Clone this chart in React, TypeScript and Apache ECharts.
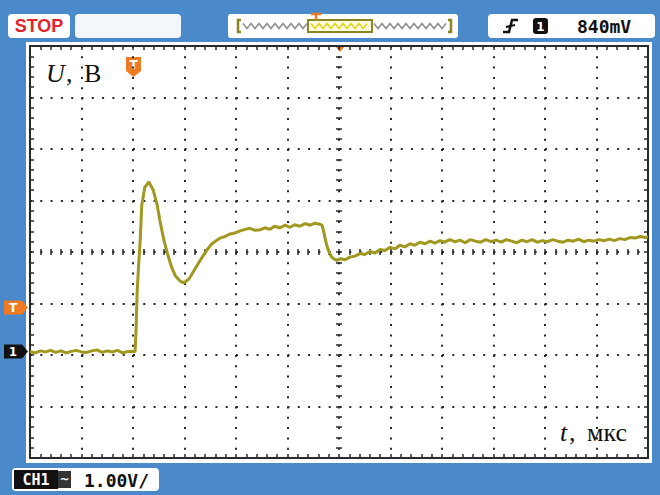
import React, { useEffect, useRef } from "react";
import * as echarts from "echarts";

// Time in screen divisions after the trigger point (trigger at t = 0)
const timeDiv: number[] = [
  -2.0, -1.9, -1.8, -1.7, -1.6, -1.5, -1.4, -1.3, -1.2, -1.1, -1.0, -0.9, -0.8, -0.7, -0.6, -0.5, -0.4, -0.3, -0.2, -0.1, 0.0,
  0.04, 0.06, 0.08, 0.11, 0.14, 0.17, 0.23, 0.31, 0.39, 0.47, 0.52, 0.6, 0.66, 0.74, 0.82, 0.91, 0.99, 1.09, 1.18, 1.3, 1.42,
  1.53, 1.6, 1.69, 1.78, 1.88, 1.98, 2.08, 2.18, 2.27, 2.37, 2.47, 2.56, 2.66, 2.75, 2.85, 2.95, 3.05, 3.14, 3.24, 3.34, 3.44,
  3.53, 3.63, 3.67, 3.7, 3.73, 3.76, 3.79, 3.83, 3.86, 3.91, 3.96, 4.04, 4.12, 4.21, 4.31, 4.41, 4.5, 4.6, 4.7, 4.8, 4.89,
  4.99, 5.09, 5.18, 5.28, 5.38, 5.47, 5.57, 5.67, 5.77, 5.86, 5.96, 6.05, 6.15, 6.25, 6.35, 6.45, 6.55, 6.65, 6.75, 6.85,
  6.95, 7.05, 7.15, 7.25, 7.35, 7.45, 7.55, 7.65, 7.75, 7.85, 7.95, 8.05, 8.15, 8.25, 8.35, 8.45, 8.55, 8.65, 8.75, 8.85,
  8.95, 9.05, 9.15, 9.25, 9.35, 9.45, 9.55, 9.65, 9.75, 9.85, 9.95, 10.0,
];

// Channel 1 voltage, volts (1.00 V/div)
const voltage: number[] = [
  0.01, -0.02, 0.02, 0.0, 0.03, -0.01, 0.02, -0.02, 0.01, 0.03, 0.0, -0.01, 0.02, 0.04, -0.01, 0.02, 0.0, 0.03, -0.02, 0.01, 0.01,
  0.0, 0.43, 1.15, 1.7, 2.17, 2.85, 3.2, 3.3, 3.15, 2.85, 2.56, 2.17, 1.94, 1.67, 1.48, 1.38, 1.34, 1.42, 1.57, 1.77, 1.96,
  2.1, 2.15, 2.21, 2.24, 2.29, 2.31, 2.35, 2.38, 2.4, 2.36, 2.37, 2.41, 2.38, 2.44, 2.41, 2.46, 2.42, 2.47, 2.44, 2.49, 2.46,
  2.5, 2.48, 2.46, 2.35, 2.21, 2.08, 1.98, 1.89, 1.84, 1.8, 1.78, 1.81, 1.79, 1.84, 1.86, 1.91, 1.89, 1.95, 1.92, 1.99, 1.97,
  2.03, 2.0, 2.07, 2.04, 2.1, 2.07, 2.13, 2.1, 2.15, 2.11, 2.16, 2.13, 2.18, 2.14, 2.17, 2.12, 2.18, 2.15, 2.13, 2.18,
  2.14, 2.17, 2.13, 2.18, 2.15, 2.12, 2.17, 2.14, 2.18, 2.13, 2.16, 2.14, 2.18, 2.15, 2.13, 2.17, 2.15, 2.19, 2.14, 2.17,
  2.15, 2.18, 2.16, 2.19, 2.16, 2.2, 2.18, 2.22, 2.21, 2.24, 2.22, 2.24,
];

const voltsPerDiv = 1.0;
const triggerLevelText = "840mV";
const scaleText = "1.00V/";

const ORANGE = "#ee7b22";
const DOT = "#2a2a2a";
const TRACE = "#a0981f";

function wave(x0: number, x1: number, y: number, amp: number, step: number): number[][] {
  const pts: number[][] = [];
  let k = 0;
  for (let x = x0; x <= x1; x += step / 2) {
    pts.push([x, y + (k % 2 === 0 ? -amp : amp)]);
    k++;
  }
  return pts;
}

export default function App() {
  const ref = useRef<HTMLDivElement>(null);
  useEffect(() => {
    if (!ref.current) return;
    const chart = echarts.init(ref.current, null, { renderer: "svg" });
    const left = 30, top = 46, width = 618, height = 412;
    const dotLine = { type: [2, 8.3] as any, width: 2, color: DOT };
    const borderLine = { show: true, onZero: false, lineStyle: { color: "#2a2a2a", width: 2 } };
    const tick = (len: number) => ({ show: true, inside: true, length: len, lineStyle: { color: DOT, width: 1.5 } });
    const minor = (len: number) => ({ show: true, splitNumber: 5, length: len, lineStyle: { color: DOT, width: 1.5 } });
    const gridAxisX = { type: "value" as const, min: -6, max: 6, interval: 1, axisLabel: { show: false } };
    const gridAxisY = { type: "value" as const, min: -4, max: 4, interval: 1, axisLabel: { show: false } };
    const data = timeDiv.map((t, i) => [t, voltage[i] / voltsPerDiv]);

    chart.setOption({
      animation: false,
      backgroundColor: "#4a8acb",
      grid: { left, top, width, height, show: false },
      xAxis: [
        { ...gridAxisX, position: "bottom", axisLine: borderLine, axisTick: tick(4), minorTick: minor(4), splitLine: { show: true, lineStyle: dotLine } },
        { ...gridAxisX, position: "top", axisLine: borderLine, axisTick: tick(4), minorTick: minor(4), splitLine: { show: false } },
        { ...gridAxisX, position: "bottom", offset: -203, axisLine: { show: false, onZero: false }, axisTick: tick(6), minorTick: minor(6), splitLine: { show: false } },
        { type: "value", min: -2, max: 10, show: false, axisLine: { onZero: false } },
      ],
      yAxis: [
        { ...gridAxisY, position: "left", axisLine: borderLine, axisTick: tick(4), minorTick: minor(4), splitLine: { show: true, lineStyle: dotLine } },
        { ...gridAxisY, position: "right", axisLine: borderLine, axisTick: tick(4), minorTick: minor(4), splitLine: { show: false } },
        { ...gridAxisY, position: "left", offset: -306, axisLine: { show: false, onZero: false }, axisTick: tick(6), minorTick: minor(6), splitLine: { show: false } },
        { type: "value", min: -2.06, max: 5.94, show: false, axisLine: { onZero: false } },
      ],
      series: [
        {
          type: "line",
          xAxisIndex: 3,
          yAxisIndex: 3,
          data,
          showSymbol: false,
          symbol: "none",
          lineStyle: { color: TRACE, width: 3 },
          z: 5,
        },
      ],
      graphic: [
        { type: "rect", z: -1, shape: { x: 26, y: 42, width: 626, height: 421 }, style: { fill: "#fff" } },
        // top bar
        { type: "rect", shape: { x: 8, y: 14, width: 62, height: 24, r: 4 }, style: { fill: "#fff" } },
        { type: "text", x: 39, y: 26, style: { text: "STOP", fill: "#e3242b", font: "bold 18px 'Liberation Sans'", align: "center", verticalAlign: "middle" } },
        { type: "rect", shape: { x: 75, y: 14, width: 106, height: 24, r: 4 }, style: { fill: "#f3f6fb" } },
        { type: "rect", shape: { x: 228, y: 14, width: 230, height: 24, r: 3 }, style: { fill: "#fff" } },
        { type: "polyline", shape: { points: [[241, 20], [238, 20], [238, 32], [241, 32]] }, style: { stroke: "#8a8620", lineWidth: 2.5, fill: null } },
        { type: "polyline", shape: { points: [[448, 20], [451, 20], [451, 32], [448, 32]] }, style: { stroke: "#8a8620", lineWidth: 2.5, fill: null } },
        { type: "polyline", shape: { points: wave(243, 307, 26, 2.5, 8) }, style: { stroke: "#8c8c8c", lineWidth: 1.5, fill: null } },
        { type: "polyline", shape: { points: wave(374, 446, 26, 2.5, 8) }, style: { stroke: "#8c8c8c", lineWidth: 1.5, fill: null } },
        { type: "rect", shape: { x: 308, y: 20, width: 64, height: 12 }, style: { fill: "#fffbe0", stroke: "#8a8620", lineWidth: 2 } },
        { type: "polyline", shape: { points: wave(311, 369, 26, 2.5, 8) }, style: { stroke: "#e3d21c", lineWidth: 1.5, fill: null } },
        { type: "polyline", shape: { points: [[311, 14], [321, 14]] }, style: { stroke: ORANGE, lineWidth: 2.5, fill: null } },
        { type: "polyline", shape: { points: [[316, 14], [316, 20]] }, style: { stroke: ORANGE, lineWidth: 2.5, fill: null } },
        { type: "rect", shape: { x: 488, y: 14, width: 167, height: 24, r: 4 }, style: { fill: "#fff" } },
        { type: "polyline", shape: { points: [[503, 32], [509, 32], [512, 20], [518, 20]] }, style: { stroke: "#111", lineWidth: 2.5, fill: null } },
        { type: "polyline", shape: { points: [[506, 27], [515, 25]] }, style: { stroke: "#111", lineWidth: 2, fill: null } },
        { type: "rect", shape: { x: 533, y: 18, width: 15, height: 16, r: 3 }, style: { fill: "#111" } },
        { type: "text", x: 540.5, y: 26.5, style: { text: "1", fill: "#fff", font: "bold 12px 'DejaVu Sans'", align: "center", verticalAlign: "middle" } },
        { type: "text", x: 577, y: 26.5, style: { text: triggerLevelText, fill: "#111", font: "bold 18px 'DejaVu Sans Mono'", align: "left", verticalAlign: "middle" } },
        // trigger markers
        { type: "polygon", shape: { points: [[335, 46], [345, 46], [340, 52]] }, style: { fill: ORANGE } },
        { type: "polygon", shape: { points: [[126, 57], [141, 57], [141, 71], [133.5, 77], [126, 71]] }, style: { fill: ORANGE } },
        { type: "text", x: 133.5, y: 65, style: { text: "T", fill: "#fff", font: "bold 12px 'DejaVu Sans'", align: "center", verticalAlign: "middle" } },
        { type: "polygon", shape: { points: [[4, 300.5], [22, 300.5], [28, 307.5], [22, 314.5], [4, 314.5]] }, style: { fill: ORANGE } },
        { type: "text", x: 13, y: 307.5, style: { text: "T", fill: "#fff", font: "bold 12px 'DejaVu Sans'", align: "center", verticalAlign: "middle" } },
        { type: "polygon", shape: { points: [[4, 344.5], [22, 344.5], [28, 351.5], [22, 358.5], [4, 358.5]] }, style: { fill: "#111" } },
        { type: "text", x: 13, y: 351.5, style: { text: "1", fill: "#fff", font: "bold 12px 'DejaVu Sans'", align: "center", verticalAlign: "middle" } },
        // axis names
        { type: "text", x: 46, y: 60, style: { text: "U", font: "italic 26px 'Liberation Serif'", fill: "#111" } },
        { type: "text", x: 66, y: 60, style: { text: ",", font: "26px 'Liberation Serif'", fill: "#111" } },
        { type: "text", x: 84, y: 60, style: { text: "В", font: "26px 'Liberation Serif'", fill: "#111" } },
        { type: "text", x: 560, y: 419, style: { text: "t", font: "italic 26px 'Liberation Serif'", fill: "#111" } },
        { type: "text", x: 569, y: 419, style: { text: ",", font: "26px 'Liberation Serif'", fill: "#111" } },
        { type: "text", x: 587, y: 419, style: { text: "мкс", font: "26px 'Liberation Serif'", fill: "#111" } },
        // bottom scale box
        { type: "rect", shape: { x: 12, y: 468, width: 147, height: 23, r: 4 }, style: { fill: "#fff" } },
        { type: "rect", shape: { x: 14, y: 470, width: 44, height: 19 }, style: { fill: "#111" } },
        { type: "text", x: 36, y: 480, style: { text: "CH1", fill: "#fff", font: "bold 15px 'DejaVu Sans Mono'", align: "center", verticalAlign: "middle" } },
        { type: "rect", shape: { x: 58, y: 471, width: 13, height: 17 }, style: { fill: "#333" } },
        { type: "text", x: 64.5, y: 479, style: { text: "~", fill: "#fff", font: "bold 12px 'DejaVu Sans'", align: "center", verticalAlign: "middle" } },
        { type: "text", x: 84, y: 480, style: { text: scaleText, fill: "#111", font: "bold 18px 'DejaVu Sans Mono'", align: "left", verticalAlign: "middle" } },
      ],
    });
    return () => chart.dispose();
  }, []);
  return <div ref={ref} style={{ position: "fixed", left: 0, top: 0, width: 660, height: 495 }} />;
}
